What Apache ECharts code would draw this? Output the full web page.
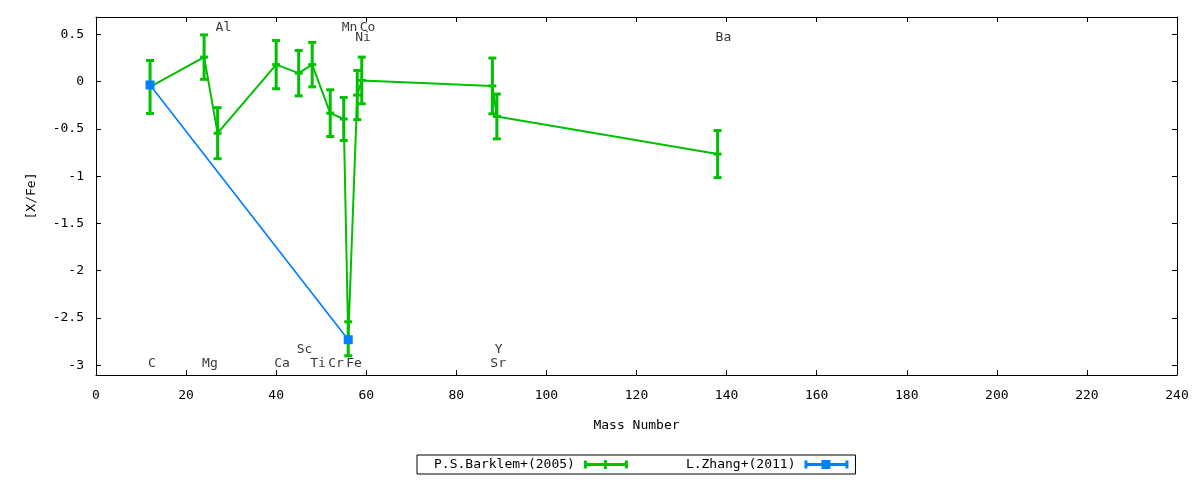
<!DOCTYPE html>
<html>
<head>
<meta charset="utf-8">
<script src="https://cdn.jsdelivr.net/npm/echarts@6/dist/echarts.min.js"></script>
<style>
  html, body { margin: 0; padding: 0; background: #fff; }
  #main { width: 1200px; height: 480px; }
</style>
</head>
<body>
<div id="main"></div>
<script>
// P.S.Barklem+(2005), sorted by mass number
var barklemMass = [12, 24, 27, 40, 45, 48, 52, 55, 56, 58, 59, 88, 89, 138];
var barklemVal  = [-0.056, 0.26, -0.545, 0.18, 0.09, 0.18, -0.333, -0.395, -2.72, -0.142, 0.013, -0.045, -0.368, -0.766];
var barklemErr  = [0.28, 0.235, 0.27, 0.255, 0.24, 0.235, 0.247, 0.228, 0.18, 0.26, 0.247, 0.295, 0.237, 0.249];

// L.Zhang+(2011)
var zhangMass = [12, 56];
var zhangVal  = [-0.035, -2.73];

// element labels
var elemName = ['C', 'Mg', 'Ca', 'Ti', 'Cr', 'Fe', 'Sr', 'Sc', 'Y', 'Al', 'Mn', 'Co', 'Ni', 'Ba'];
var elemX    = [12, 24, 40, 48, 52, 56, 88, 45, 89, 27, 55, 59, 58, 138];
var elemY    = [-2.98, -2.98, -2.98, -2.98, -2.98, -2.98, -2.98, -2.83, -2.83, 0.575, 0.575, 0.575, 0.47, 0.47];

var xMin = 0, xMax = 240, xStep = 20;
var yMin = -3.103, yMax = 0.684;

var FONT = 'DejaVu Sans Mono';
var GREEN = '#00c000';
var BLUE = '#0080ff';

var iconBar = 'path://M0,0.5h3v8h-3zM41,0.5h3v8h-3zM0,3h44v3h-44zM20,0h3v9h-3z';
var iconSq  = 'path://M0,0.5h3v8h-3zM41,0.5h3v8h-3zM0,3h44v3h-44zM17,0h9v9h-9z';

function zip2(a, b) {
    return a.map(function (v, i) { return [v, b[i]]; });
}

function errBars(color) {
    return function (params, api) {
        var x = api.value(0), y = api.value(1), e = api.value(2);
        var hi = api.coord([x, y + e]);
        var lo = api.coord([x, y - e]);
        var st = { stroke: color, lineWidth: 3 };
        return {
            type: 'group',
            children: [
                { type: 'line', shape: { x1: hi[0], y1: hi[1], x2: lo[0], y2: lo[1] }, style: st },
                { type: 'line', shape: { x1: hi[0] - 4, y1: hi[1], x2: hi[0] + 4, y2: hi[1] }, style: st },
                { type: 'line', shape: { x1: lo[0] - 4, y1: lo[1], x2: lo[0] + 4, y2: lo[1] }, style: st }
            ]
        };
    };
}

var chart = echarts.init(document.getElementById('main'));

var axisX = {
    type: 'value', min: xMin, max: xMax, interval: xStep,
    axisLine: { show: true, onZero: false, lineStyle: { color: '#000', width: 1 } },
    axisTick: { show: true, inside: true, length: 5, lineStyle: { color: '#000' } },
    splitLine: { show: false }
};
var axisY = {
    type: 'value', min: yMin, max: yMax, splitNumber: 8,
    axisLine: { show: true, onZero: false, lineStyle: { color: '#000', width: 1 } },
    axisTick: { show: true, inside: true, length: 5, lineStyle: { color: '#000' } },
    splitLine: { show: false }
};

option = {
    backgroundColor: '#fff',
    animation: false,
    textStyle: { fontFamily: FONT },
    grid: { left: 96, right: 23, top: 17, bottom: 105 },
    xAxis: [
        Object.assign({}, axisX, {
            position: 'bottom',
            name: 'Mass Number', nameLocation: 'middle', nameGap: 44,
            nameTextStyle: { fontFamily: FONT, fontSize: 13, color: '#000' },
            axisLabel: { margin: 14, fontFamily: FONT, fontSize: 13, color: '#000' }
        }),
        Object.assign({}, axisX, { position: 'top', axisLabel: { show: false } })
    ],
    yAxis: [
        Object.assign({}, axisY, {
            position: 'left',
            name: '[X/Fe]', nameLocation: 'middle', nameGap: 58, nameRotate: 90,
            nameTextStyle: { fontFamily: FONT, fontSize: 13, color: '#000' },
            axisLabel: { margin: 12, fontFamily: FONT, fontSize: 13, color: '#000',
                         showMinLabel: false, showMaxLabel: false }
        }),
        Object.assign({}, axisY, { position: 'right', axisLabel: { show: false } })
    ],
    legend: {
        left: 417, top: 455,
        orient: 'horizontal',
        align: 'right',
        borderColor: '#000', borderWidth: 1, borderRadius: 0,
        padding: [3, 7, 3, 17],
        itemGap: 58, itemWidth: 44, itemHeight: 9,
        textStyle: { fontFamily: FONT, fontSize: 13, color: '#000', padding: [0, 4, 0, 0] },
        data: [
            { name: 'P.S.Barklem+(2005)', icon: iconBar, itemStyle: { color: GREEN } },
            { name: 'L.Zhang+(2011)', icon: iconSq, itemStyle: { color: BLUE } }
        ]
    },
    series: [
        {
            name: 'P.S.Barklem+(2005)',
            type: 'custom',
            renderItem: errBars(GREEN),
            data: barklemMass.map(function (m, i) { return [m, barklemVal[i], barklemErr[i]]; }),
            encode: { x: 0, y: 1 },
            itemStyle: { color: GREEN },
            z: 2
        },
        {
            name: 'P.S.Barklem+(2005)',
            type: 'line',
            data: zip2(barklemMass, barklemVal),
            lineStyle: { color: GREEN, width: 2 },
            itemStyle: { color: GREEN },
            symbol: 'rect', symbolSize: [8, 3], showAllSymbol: true,
            z: 2
        },
        {
            name: 'L.Zhang+(2011)',
            type: 'line',
            data: zip2(zhangMass, zhangVal),
            lineStyle: { color: BLUE, width: 1.7 },
            itemStyle: { color: BLUE },
            symbol: 'rect', symbolSize: 9,
            z: 3
        },
        {
            name: 'labels',
            type: 'scatter',
            data: elemX.map(function (x, i) { return { value: [x, elemY[i]], name: elemName[i] }; }),
            symbolSize: 0,
            silent: true,
            label: {
                show: true, position: 'right', distance: 0, offset: [-2, 0],
                formatter: '{b}', fontFamily: FONT, fontSize: 13, color: '#000'
            },
            z: 4
        }
    ]
};

chart.setOption(option);
</script>
</body>
</html>
